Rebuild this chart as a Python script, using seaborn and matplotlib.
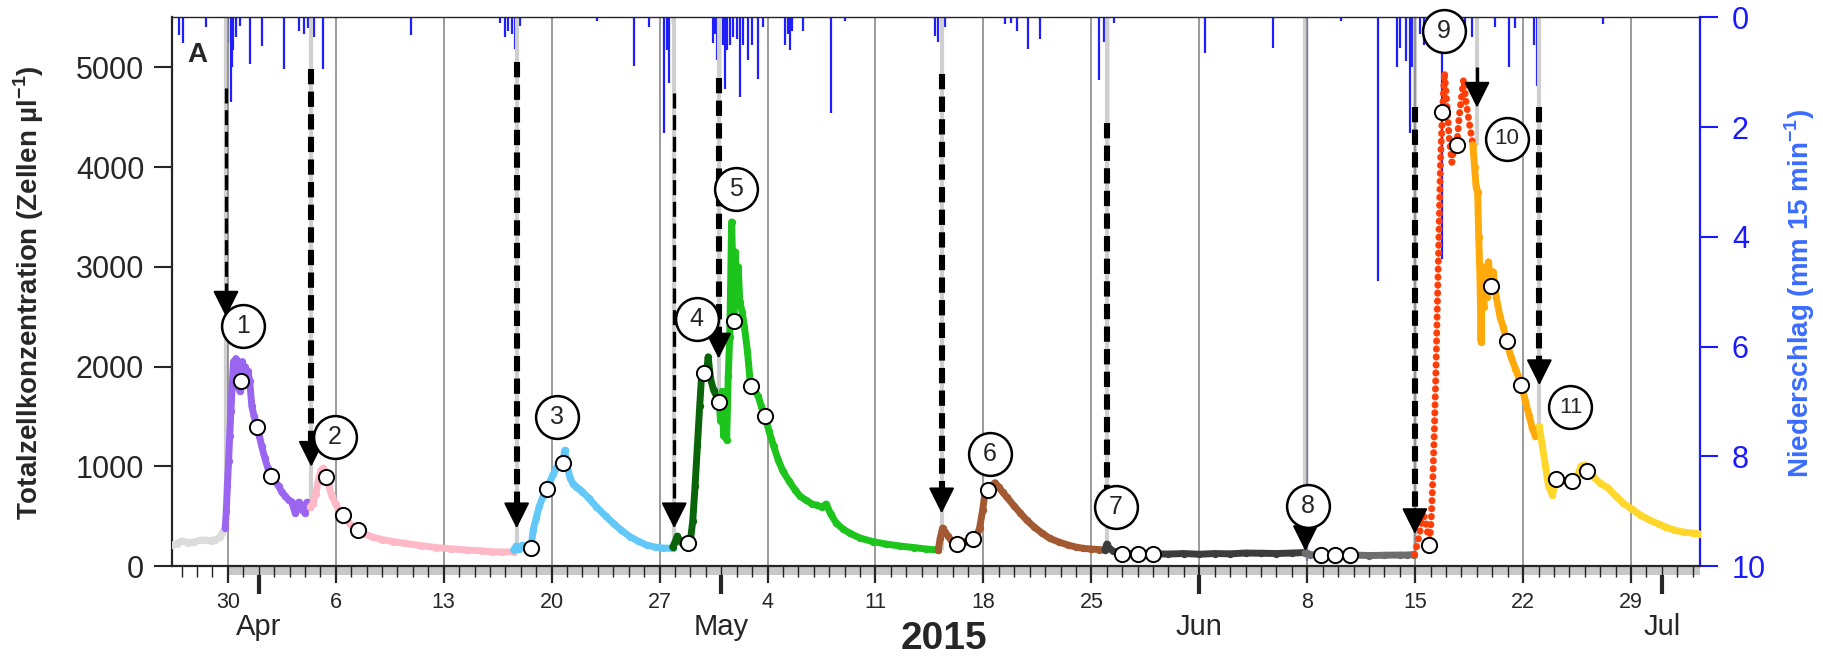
import numpy as np
import pandas as pd
import matplotlib
matplotlib.use("Agg")
import matplotlib.pyplot as plt
import matplotlib.dates as mdates
from matplotlib.patches import Rectangle
from matplotlib.ticker import FixedLocator, NullLocator
from matplotlib import font_manager as fm
import seaborn as sns

sns.set_style("white")
plt.rcParams["font.family"] = ["Liberation Sans", "DejaVu Sans"]
plt.rcParams["mathtext.fontset"] = "custom"
plt.rcParams["mathtext.rm"] = "Liberation Sans"
plt.rcParams["mathtext.bf"] = "Liberation Sans:bold"
plt.rcParams["xtick.bottom"] = True
plt.rcParams["ytick.left"] = True

BASE = "2015-03-30"   # day offsets below are days after 2015-03-30 00:00

# ---------------- cell concentration (Zellen µl-1), one array per event ----------
gray_day = [-3.62, -3.3, -3.0, -2.6, -2.2, -1.8, -1.46, -1.1, -0.8, -0.5, -0.38, -0.17]
gray_val = [210, 225, 250, 235, 240, 260, 260, 255, 265, 290, 330, 380]

purple_day = [-0.17, -0.1, -0.03, 0.05, 0.12, 0.2, 0.28, 0.37, 0.45, 0.52, 0.6, 0.69, 0.78,
              0.87, 0.95, 1.02, 1.1, 1.2, 1.3, 1.42, 1.56, 1.7, 1.89, 2.05, 2.2, 2.4, 2.6,
              2.82, 3.05, 3.3, 3.5, 3.72, 3.95, 4.15, 4.37, 4.5, 4.6, 4.7, 4.8, 4.9, 5.0,
              5.13, 5.25, 5.35]
purple_val = [380, 550, 800, 1050, 1300, 1550, 1800, 2050, 1800, 2080, 1850, 2050, 1750,
              1856, 2050, 1900, 2000, 1850, 1950, 1850, 1600, 1500, 1396, 1300, 1200, 1080,
              980, 902, 850, 800, 740, 700, 660, 640, 530, 600, 640, 620, 560, 590, 530,
              640, 610, 594]

pink_day = [5.35, 5.5, 5.7, 5.9, 6.05, 6.2, 6.38, 6.55, 6.75, 7.0, 7.2, 7.44, 7.7, 8.0,
            8.44, 8.9, 9.4, 10.0, 10.7, 11.5, 12.5, 13.5, 14.5, 15.5, 16.5, 17.1, 17.8, 18.53]
pink_val = [594, 620, 720, 880, 960, 982, 892, 800, 700, 620, 560, 511, 460, 410, 360, 320,
            290, 265, 245, 227, 205, 185, 172, 160, 152, 143, 140, 143]

blue_day = [18.53, 18.7, 18.9, 19.1, 19.3, 19.5, 19.66, 19.8, 20.0, 20.2, 20.45, 20.67,
            20.9, 21.1, 21.3, 21.5, 21.71, 21.85, 22.0, 22.2, 22.4, 22.6, 22.8, 23.0, 23.4,
            23.9, 24.5, 25.0, 25.5, 26.08, 26.6, 27.16, 27.7, 28.2, 28.85]
blue_val = [160, 200, 170, 210, 180, 170, 177, 360, 480, 600, 700, 768, 850, 920, 980,
            1050, 1035, 1160, 1000, 880, 820, 795, 770, 745, 680, 594, 500, 428, 360, 294,
            250, 210, 190, 180, 177]

dkgreen_day = [28.85, 29.0, 29.15, 29.3, 29.5, 29.7, 29.86, 30.0, 30.15, 30.3, 30.45,
               30.6, 30.72, 30.9, 31.05, 31.15, 31.3, 31.5, 31.7, 31.87]
dkgreen_val = [190, 240, 300, 260, 220, 230, 227, 260, 450, 800, 1200, 1600, 1897, 1937,
               1950, 2097, 1880, 1763, 1700, 1646]

green_day = [31.87, 31.95, 32.05, 32.15, 32.25, 32.35, 32.45, 32.55, 32.67, 32.75, 32.82,
             32.9, 33.0, 33.1, 33.2, 33.35, 33.5, 33.7, 33.9, 34.1, 34.4, 34.6, 34.83, 35.1,
             35.4, 35.7, 36.0, 36.4, 36.8, 37.1, 37.5, 37.9, 38.18, 38.5, 38.8, 39.1, 39.47,
             39.9, 40.34, 41.0, 41.85, 42.7, 43.6, 44.5, 45.3, 46.07]
green_val = [1646, 1450, 1750, 1300, 1650, 1262, 1900, 2300, 3449, 3000, 2458, 3150, 2850,
             3000, 2650, 2550, 2400, 2150, 1803, 1780, 1700, 1600, 1503, 1350, 1200, 1060,
             950, 850, 760, 700, 660, 620, 611, 590, 621, 520, 428, 370, 328, 280, 244, 220,
             200, 185, 170, 160]

brown_day = [46.07, 46.2, 46.35, 46.5, 46.7, 46.9, 47.1, 47.26, 47.5, 47.8, 48.1, 48.34,
             48.55, 48.75, 48.95, 49.1, 49.3, 49.5, 49.75, 50.0, 50.25, 50.5, 51.0, 51.4,
             51.8, 52.3, 52.8, 53.3, 53.9, 54.5, 55.0, 55.47, 56.0, 56.5, 56.88]
brown_val = [160, 280, 380, 340, 300, 260, 240, 220, 230, 245, 255, 267, 290, 380, 560,
             731, 761, 800, 835, 790, 740, 694, 600, 530, 461, 390, 330, 277, 240, 210, 190,
             177, 170, 165, 160]

dkgray_day = [56.88, 57.0, 57.15, 57.4, 57.7, 58.0, 58.5, 59.0, 59.5, 60.0, 61.0, 62.0,
              63.0, 64.0, 65.0, 66.0, 67.0, 68.0, 69.0, 69.88]
dkgray_val = [160, 220, 180, 150, 135, 130, 125, 125, 125, 122, 120, 125, 118, 125, 122,
              130, 128, 125, 130, 135]

gray2_day = [69.88, 70.2, 70.6, 71.0, 71.5, 72.0, 72.5, 73.0, 74.0, 75.0, 76.0, 76.5, 76.95]
gray2_val = [135, 115, 110, 110, 108, 110, 108, 110, 105, 108, 110, 110, 115]

red_day = [76.95, 77.1, 77.25, 77.4, 77.55, 77.65, 77.75, 77.85, 77.95, 78.05, 78.15,
           78.25, 78.35, 78.45, 78.55, 78.65, 78.77, 78.9, 79.05, 79.2, 79.38, 79.55, 79.7,
           79.85, 80.0, 80.14, 80.3, 80.5, 80.74]
red_val = [115, 200, 300, 420, 500, 480, 380, 300, 260, 500, 900, 1400, 2000, 2700, 3400,
           4100, 4556, 4950, 4650, 4300, 4047, 4250, 4224, 4500, 4700, 4879, 4650, 4450, 4224]

orange_day = [80.74, 80.85, 80.95, 81.05, 81.12, 81.2, 81.27, 81.35, 81.45, 81.55, 81.65,
              81.75, 81.9, 82.05, 82.25, 82.5, 82.7, 82.93, 83.2, 83.5, 83.89, 84.15, 84.4,
              84.6, 84.8, 85.05]
orange_val = [4224, 4000, 3800, 3750, 3300, 2900, 2250, 2900, 2600, 3000, 2700, 3050, 2805,
              2950, 2700, 2500, 2400, 2255, 2100, 1980, 1818, 1650, 1500, 1380, 1300, 1380]

yellow_day = [85.05, 85.25, 85.45, 85.65, 85.9, 86.13, 86.5, 86.9, 87.16, 87.45, 87.75,
              88.0, 88.16, 88.5, 89.0, 89.5, 90.0, 90.5, 91.04, 91.6, 92.2, 92.8, 93.2,
              93.8, 94.4, 95.0, 95.47]
yellow_val = [1400, 1200, 1000, 800, 712, 872, 860, 840, 848, 870, 1000, 1012, 950, 900,
              830, 783, 700, 630, 571, 510, 460, 420, 393, 360, 340, 330, 322]

# sampling points (white circles)
sample_day = [0.87, 1.89, 2.82, 6.38, 7.44, 8.44, 19.66, 20.67, 21.71, 29.86, 30.9, 31.87,
              32.82, 33.9, 34.83, 47.26, 48.34, 49.3, 58.0, 59.0, 60.0, 70.9, 71.8, 72.8,
              77.9, 78.77, 79.7, 81.9, 82.93, 83.89, 86.13, 87.16, 88.16]
sample_val = [1856, 1396, 902, 892, 511, 360, 177, 768, 1035, 227, 1937, 1646,
              2458, 1803, 1503, 220, 267, 761, 125, 125, 125, 110, 110, 110,
              206, 4556, 4224, 2805, 2255, 1818, 872, 848, 950]

# precipitation spikes (mm 15 min-1)
rain_day = [-3.15, -2.9, -1.4, -0.12, 0.04, 0.19, 0.3, 0.35, 0.5, 0.8, 1.44, 2.23, 3.62,
            4.64, 4.96, 5.2, 5.41, 5.57, 6.2, 11.87, 17.67, 17.99, 18.2, 18.45, 18.63, 18.75,
            18.95, 23.97, 26.36, 27.32, 28.27, 28.45, 28.59, 28.9, 31.44, 31.6, 31.7, 31.92,
            32.1, 32.24, 32.4, 32.55, 32.75, 33.0, 33.2, 33.4, 33.75, 34.0, 34.38, 34.7,
            36.14, 36.3, 36.46, 36.6, 37.3, 39.14, 40.04, 45.86, 46.05, 46.3, 46.5, 50.37,
            50.8, 51.2, 51.9, 52.7, 56.5, 56.8, 57.05, 57.5, 63.4, 67.8, 69.97, 72.2, 74.6,
            75.85, 76.0, 76.4, 76.66, 76.8, 77.0, 77.3, 77.6, 78.0, 78.3, 78.75, 79.2, 79.6,
            80.2, 80.7, 81.0, 82.2, 83.1, 83.5, 84.7, 84.9, 89.2]
rain_mm = [0.32, 0.47, 0.18, 0.77, 0.47, 1.55, 0.9, 0.6, 0.35, 0.15, 0.85, 0.52, 0.94,
           0.24, 0.3, 0.2, 0.6, 0.36, 0.94, 0.32, 0.1, 0.36, 0.24, 0.3, 0.58, 0.47,
           0.15, 0.06, 0.88, 0.18, 2.1, 0.6, 1.2, 0.12, 0.47, 0.3, 0.77, 1.07,
           0.5, 1.3, 0.6, 0.5, 0.36, 0.4, 1.45, 0.5, 0.77, 0.5, 1.13, 0.18,
           0.5, 0.3, 0.6, 0.25, 0.24, 1.75, 0.06, 0.33, 0.45, 0.9, 0.18, 0.12,
           0.1, 0.24, 0.58, 0.4, 1.14, 0.45, 2.4, 0.1, 0.64, 0.55, 9.9, 0.07, 4.8,
           0.9, 0.55, 0.8, 2.1, 0.9, 0.4, 0.3, 0.5, 0.4, 0.6, 4.4, 0.4, 0.3,
           0.3, 0.36, 0.67, 0.18, 0.9, 0.2, 0.5, 1.25, 0.12]

# events (arrows + numbered circles)
event_day = [-0.12, 5.41, 18.73, 28.95, 31.83, 46.29, 57.03, 69.88, 76.98, 81.01, 85.05]
event_base = [380, 594, 160, 190, 1646, 160, 160, 135, 115, 4224, 1400]
arrow_top = [4790, 4980, 5050, 4740, 4890, 4930, 4440, 560, 4600, 5000, 4600]
arrow_tip = [2500, 995, 378, 378, 2080, 528, 394, 150, 320, 4595, 1813]
arrow_thin = [True, False, False, True, False, False, False, False, False, True, False]
label_text = ["1", "2", "3", "4", "5", "6", "7", "8", "9", "10", "11"]
label_day = [0.98, 6.92, 21.32, 30.4, 32.95, 49.42, 57.6, 70.04, 78.88, 82.93, 87.07]
label_val = [2404, 1289, 1496, 2481, 3783, 1122, 594, 602, 5365, 4284, 1593]

month_labels = ["Apr", "May", "Jun", "Jul"]
month_dates = ["2015-04-01", "2015-05-01", "2015-06-01", "2015-07-01"]

base_num = mdates.date2num(pd.Timestamp(BASE))


def T(days):
    return base_num + np.asarray(days, dtype=float)


segments = [
    (gray_day, gray_val, "#dcdcdc", "solid"),
    (purple_day, purple_val, "#9a66f0", "solid"),
    (pink_day, pink_val, "#ffb8c6", "solid"),
    (blue_day, blue_val, "#62c8f8", "solid"),
    (dkgreen_day, dkgreen_val, "#0a650a", "solid"),
    (green_day, green_val, "#1cc41c", "solid"),
    (brown_day, brown_val, "#a35a32", "solid"),
    (dkgray_day, dkgray_val, "#3c3c3c", "solid"),
    (gray2_day, gray2_val, "#6e6e6e", "solid"),
    (red_day, red_val, "#ff3f0a", "dotted"),
    (orange_day, orange_val, "#ffaa0a", "solid"),
    (yellow_day, yellow_val, "#ffd72a", "solid"),
]

fig = plt.figure(figsize=(18.23, 6.63), dpi=100)
ax = fig.add_axes([0.09435, 0.14630, 0.83818, 0.82746])
ax2 = ax.twinx()
ax.set_zorder(ax2.get_zorder() + 1)
ax.patch.set_visible(False)

# precipitation
ax2.vlines(T(rain_day), 0, rain_mm, color="#1e1eff", lw=1.6)
ax2.set_ylim(10, 0)
ax2.set_yticks([0, 2, 4, 6, 8, 10])
ax2.tick_params(axis="y", which="major", right=True, left=False, colors="#1a1aff",
                labelsize=22, length=13, width=1.5, direction="out", pad=10)
for s in ["top", "left", "bottom"]:
    ax2.spines[s].set_visible(False)
ax2.spines["right"].set_color("#1a1aff")
ax2.spines["right"].set_linewidth(1.6)

# event background lines (light gray)
for d, b in zip(event_day, event_base):
    ax.plot([T(d)] * 2, [b, 5500], color="#cfcfcf", lw=3.0, zorder=1,
            solid_capstyle="butt")

# concentration series
for days, vals, col, style in segments:
    x = T(days)
    if style == "dotted":
        sns.lineplot(x=x, y=vals, ax=ax, color=col, lw=5, sort=False, estimator=None,
                     legend=False, linestyle=(0, (0.05, 1.1)), dash_capstyle="round",
                     zorder=3)
    else:
        sns.lineplot(x=x, y=vals, ax=ax, color=col, lw=5, sort=False, estimator=None,
                     legend=False, solid_capstyle="round", zorder=3)
        sns.scatterplot(x=x, y=vals, ax=ax, color=col, s=28, linewidth=0, zorder=3,
                        legend=False)

# dashed arrows
for d, top, tip, thin in zip(event_day, arrow_top, arrow_tip, arrow_thin):
    lw = 2.4 if thin else 4.4
    dash = (4.5, 2.0) if thin else (2.5, 1.2)
    head = 230
    ax.plot([T(d)] * 2, [top, tip + head], color="black", lw=lw, zorder=5,
            linestyle=(0, dash), solid_capstyle="butt", dash_capstyle="butt")
    ax.annotate("", xy=(T(d), tip), xytext=(T(d), tip + head + 20),
                arrowprops=dict(arrowstyle="-|>,head_length=0.9,head_width=0.45",
                                color="black", lw=1.5, shrinkA=0, shrinkB=0,
                                mutation_scale=18),
                zorder=6)

# sample circles
sns.scatterplot(x=T(sample_day), y=sample_val, ax=ax, s=120, color="white",
                edgecolor="black", linewidth=1.4, zorder=7, legend=False)

# numbered circles
ax.scatter(T(label_day), label_val, s=950, facecolor="white", edgecolor="black",
           linewidth=1.8, zorder=8, clip_on=False)
for d, v, t in zip(label_day, label_val, label_text):
    ax.text(T(d), v, t, ha="center", va="center", fontsize=18 if len(t) == 1 else 16,
            zorder=9, clip_on=False)

# axes ranges and ticks
ax.set_xlim(T(-3.62), T(95.47))
ax.set_ylim(0, 5500)
ax.set_yticks([0, 1000, 2000, 3000, 4000, 5000])
ax.tick_params(axis="y", which="major", left=True, right=False, labelsize=22, length=13,
               width=1.5, direction="out", pad=7)

week_dates = pd.date_range("2015-03-30", "2015-06-29", freq="7D")
week_pos = mdates.date2num(week_dates)
week_labels = ["" if (d.month == 6 and d.day == 1) else str(d.day) for d in week_dates]
day_pos = mdates.date2num(pd.date_range("2015-03-26", "2015-07-03", freq="D"))

narrow = "Liberation Sans Narrow" in {f.name for f in fm.fontManager.ttflist}
ax.xaxis.set_major_locator(FixedLocator(week_pos))
ax.set_xticklabels(week_labels)
ax.xaxis.set_minor_locator(FixedLocator(day_pos))
ax.tick_params(axis="x", which="major", bottom=True, length=12, width=1.6,
               direction="out", pad=7, labelsize=17 if narrow else 15.5)
ax.tick_params(axis="x", which="minor", bottom=True, length=8, width=1.0,
               direction="out", color="#222222")
if narrow:
    for lab in ax.get_xticklabels():
        lab.set_family(["Liberation Sans Narrow", "Liberation Sans"])

ax.grid(axis="x", which="major", color="#8a8a8a", lw=1.2, zorder=0.3)
ax.set_axisbelow("line")
ax.spines["right"].set_visible(False)
for s in ["left", "bottom"]:
    ax.spines[s].set_linewidth(1.6)
ax.spines["top"].set_linewidth(1.0)

# gray strip under the date axis
x0 = (T(0) - T(-3.62)) / (T(95.47) - T(-3.62))
ax.add_patch(Rectangle((x0, -0.017), 1 - x0, 0.017, transform=ax.transAxes,
                       facecolor="#c8c8c8", edgecolor="none", clip_on=False, zorder=0.1))

# month ticks on a secondary axis
sec = ax.secondary_xaxis("bottom")
sec.set_xticks(mdates.date2num(pd.to_datetime(month_dates)), labels=month_labels)
sec.xaxis.set_minor_locator(NullLocator())
sec.tick_params(axis="x", length=20, width=3, pad=14, labelsize=21, direction="out")
sec.spines["bottom"].set_visible(False)

ax.set_xlabel("")
ax.set_ylabel("")

fig.text(0.518, 0.036, "2015", ha="center", va="center", fontsize=28,
         fontweight="bold")
fig.text(0.016, 0.559, r"Totalzellkonzentration (Zellen µl$^{\mathbf{-1}}$)",
         rotation=90, ha="center", va="center", fontsize=20, fontweight="bold")
fig.text(0.9874, 0.557, r"Niederschlag (mm 15 min$^{\mathbf{-1}}$)", rotation=90,
         ha="center", va="center", fontsize=20, fontweight="bold", color="#3a6cff")
ax.text(0.0168, 0.932, "A", transform=ax.transAxes, ha="center", va="center",
        fontsize=20, fontweight="bold", zorder=10)

fig.savefig("out.png", dpi=100)
